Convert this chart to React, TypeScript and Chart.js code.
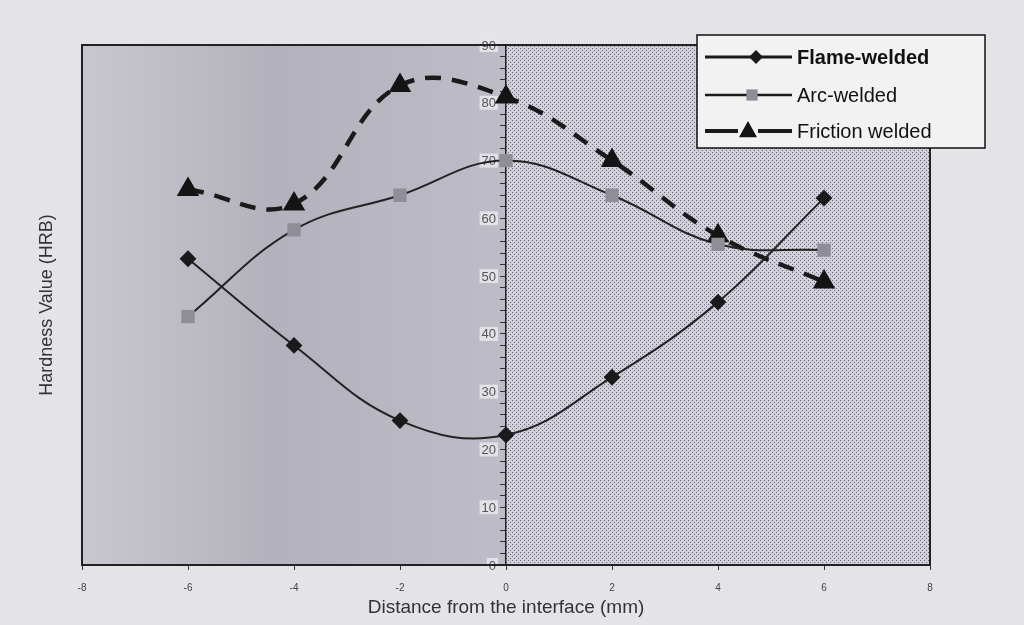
import React, { useEffect, useRef } from "react";
import { Chart, registerables } from "chart.js";

Chart.register(...registerables);

const distances = [-6, -4, -2, 0, 2, 4, 6];
const flameWelded = [53, 38, 25, 22.5, 32.5, 45.5, 63.5];
const arcWelded = [43, 58, 64, 70, 64, 55.5, 54.5];
const frictionWelded = [65, 62.5, 83, 81, 70, 57, 49];
const seriesNames = ["Flame-welded", "Arc-welded", "Friction welded"];
const xTitle = "Distance from the interface (mm)";
const yTitle = "Hardness Value (HRB)";

function makePattern(ctx: CanvasRenderingContext2D) {
  const c = document.createElement("canvas");
  c.width = 4;
  c.height = 4;
  const p = c.getContext("2d")!;
  p.fillStyle = "#d0cfda";
  p.fillRect(0, 0, 4, 4);
  p.fillStyle = "#6c6b7a";
  p.fillRect(0, 0, 1, 1);
  p.fillRect(2, 2, 1, 1);
  return ctx.createPattern(c, "repeat");
}

function drawMarker(ctx: CanvasRenderingContext2D, style: string, x: number, y: number, r: number, fill: string) {
  ctx.save();
  ctx.fillStyle = fill;
  ctx.beginPath();
  if (style === "rectRot") {
    ctx.moveTo(x, y - r);
    ctx.lineTo(x + r, y);
    ctx.lineTo(x, y + r);
    ctx.lineTo(x - r, y);
  } else if (style === "rect") {
    ctx.rect(x - r * 0.8, y - r * 0.8, r * 1.6, r * 1.6);
  } else {
    ctx.moveTo(x, y - r * 1.1);
    ctx.lineTo(x + r, y + r * 0.7);
    ctx.lineTo(x - r, y + r * 0.7);
  }
  ctx.closePath();
  ctx.fill();
  ctx.restore();
}

const decorPlugin = {
  id: "decor",
  beforeDraw(chart: any) {
    const { ctx, chartArea: a, scales } = chart;
    ctx.save();
    ctx.fillStyle = "#e4e3e8";
    ctx.fillRect(0, 0, chart.width, chart.height);
    const mid = scales.x.getPixelForValue(0);
    const g = ctx.createLinearGradient(a.left, 0, mid, 0);
    g.addColorStop(0, "#c8c7cf");
    g.addColorStop(0.45, "#b3b2bc");
    g.addColorStop(1, "#bebdc7");
    ctx.fillStyle = g;
    ctx.fillRect(a.left, a.top, mid - a.left, a.bottom - a.top);
    ctx.fillStyle = makePattern(ctx) || "#bcbcca";
    ctx.fillRect(mid, a.top, a.right - mid, a.bottom - a.top);
    ctx.restore();
  },
  beforeDatasetsDraw(chart: any) {
    // y tick labels left of the centred axis
    const { ctx, scales } = chart;
    const ys = scales.y;
    const axisX = scales.x.getPixelForValue(0);
    ctx.save();
    ctx.font = "13px 'Liberation Sans', Arial, sans-serif";
    ctx.textAlign = "right";
    ctx.textBaseline = "middle";
    ys.ticks.forEach((t: any) => {
      if (t.value % 10 !== 0) return;
      const py = ys.getPixelForValue(t.value);
      const txt = String(t.value);
      const w = ctx.measureText(txt).width;
      const rx = axisX - 10;
      ctx.fillStyle = "rgba(228,228,234,0.9)";
      ctx.fillRect(rx - w - 2, py - 7, w + 4, 14);
      ctx.fillStyle = "#555";
      ctx.fillText(txt, rx, py + 1);
    });
    ctx.restore();
  },
  afterDraw(chart: any) {
    const { ctx, chartArea: a } = chart;
    ctx.save();
    ctx.strokeStyle = "#222";
    ctx.lineWidth = 2;
    ctx.strokeRect(a.left, a.top, a.right - a.left, a.bottom - a.top);

    ctx.translate(47, 305);
    ctx.rotate(-Math.PI / 2);
    ctx.fillStyle = "#333";
    ctx.font = "18px 'Liberation Sans', Arial, sans-serif";
    ctx.textAlign = "center";
    ctx.textBaseline = "middle";
    ctx.fillText(yTitle, 0, 0);
    ctx.restore();

    ctx.save();
    const bx = 697, by = 35, bw = 288, bh = 113;
    ctx.fillStyle = "#f2f2f2";
    ctx.fillRect(bx, by, bw, bh);
    ctx.strokeStyle = "#111";
    ctx.lineWidth = 1.5;
    ctx.strokeRect(bx, by, bw, bh);
    const rows = [57, 95, 131];
    chart.data.datasets.forEach((ds: any, i: number) => {
      const y = rows[i];
      ctx.strokeStyle = "#1a1a1a";
      ctx.lineWidth = i === 2 ? 4 : i === 0 ? 3 : 2.5;
      ctx.beginPath();
      if (i === 2) {
        ctx.moveTo(705, y);
        ctx.lineTo(738, y);
        ctx.moveTo(758, y);
        ctx.lineTo(792, y);
      } else {
        ctx.moveTo(705, y);
        ctx.lineTo(792, y);
      }
      ctx.stroke();
      const mx = i === 0 ? 756 : i === 1 ? 752 : 748;
      drawMarker(ctx, ds.pointStyle, mx, y, i === 2 ? 9 : 7, ds.pointBackgroundColor);
      ctx.fillStyle = "#111";
      ctx.font = (i === 0 ? "bold " : "") + "20px 'Liberation Sans', Arial, sans-serif";
      ctx.textAlign = "left";
      ctx.textBaseline = "middle";
      ctx.fillText(ds.label, 797, y + 1);
    });
    ctx.restore();
  },
};

export default function App() {
  const ref = useRef<HTMLCanvasElement>(null);
  useEffect(() => {
    const toPts = (arr: number[]) => arr.map((v, i) => ({ x: distances[i], y: v }));
    const chart = new Chart(ref.current!, {
      type: "line",
      data: {
        datasets: [
          {
            label: seriesNames[0],
            data: toPts(flameWelded),
            borderColor: "#222",
            borderWidth: 2,
            pointStyle: "rectRot",
            pointRadius: 7,
            pointBackgroundColor: "#1a1a1a",
            pointBorderColor: "#1a1a1a",
            tension: 0.4,
          },
          {
            label: seriesNames[1],
            data: toPts(arcWelded),
            borderColor: "#222",
            borderWidth: 2,
            pointStyle: "rect",
            pointRadius: 8,
            pointBackgroundColor: "#8f8e98",
            pointBorderColor: "#8f8e98",
            tension: 0.4,
          },
          {
            label: seriesNames[2],
            data: toPts(frictionWelded),
            borderColor: "#1a1a1a",
            borderWidth: 4.5,
            borderDash: [16, 11],
            pointStyle: "triangle",
            pointRadius: 8.5,
            pointBackgroundColor: "#141414",
            pointBorderColor: "#141414",
            tension: 0.4,
          },
        ],
      },
      options: {
        animation: false,
        responsive: false,
        layout: { padding: { left: 82, right: 94, top: 45, bottom: 0 } },
        plugins: { legend: { display: false }, tooltip: { enabled: false } },
        scales: {
          x: {
            type: "linear",
            min: -8,
            max: 8,
            position: "bottom",
            ticks: { stepSize: 2, color: "#444", font: { size: 10, family: "'Liberation Sans', Arial" }, padding: 12 },
            grid: { drawOnChartArea: false, tickLength: 5, color: "#333" },
            border: { display: true, color: "#222", width: 2 },
            title: {
              display: true,
              text: xTitle,
              color: "#333",
              font: { size: 19, family: "'Liberation Sans', Arial" },
              padding: { top: 0, bottom: 6 },
            },
            afterFit: (s: any) => {
              s.height = 60;
            },
          },
          y: {
            type: "linear",
            min: 0,
            max: 90,
            position: { x: 0 } as any,
            ticks: {
              stepSize: 2,
              autoSkip: false,
              color: "#555",
              font: { size: 12, family: "'Liberation Sans', Arial" },
              callback: () => "",
            },
            grid: { drawOnChartArea: false, tickLength: 5, color: "#333" },
            border: { display: true, color: "#222", width: 1.5 },
          },
        },
      },
      plugins: [decorPlugin],
    });
    return () => chart.destroy();
  }, []);
  return (
    <div style={{ position: "fixed", left: 0, top: 0, width: 1024, height: 625 }}>
      <canvas ref={ref} width={1024} height={625} style={{ display: "block" }} />
    </div>
  );
}
